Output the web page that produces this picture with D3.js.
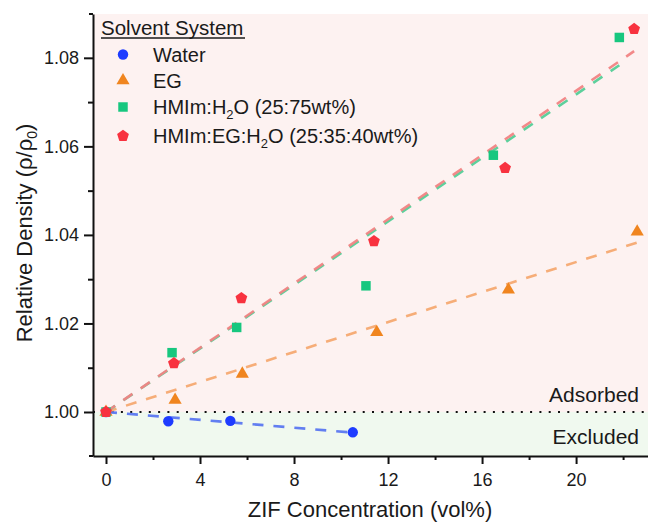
<!DOCTYPE html>
<html>
<head>
<meta charset="utf-8">
<script src="https://cdn.jsdelivr.net/npm/d3@7"></script>
<style>
  body { margin: 0; background: #fff; }
  svg { font-family: "Liberation Sans", Arial, sans-serif; }
</style>
</head>
<body>
<svg width="648" height="525"></svg>
<script>
// data: x = ZIF vol%, y = relative density
var waterX = [0, 2.65, 5.29, 10.5];
var waterY = [1.0, 0.9979, 0.9980, 0.99541];
var egX = [0, 2.94, 5.8, 11.52, 17.12, 22.6];
var egY = [1.0, 1.0027, 1.0086, 1.018, 1.0276, 1.0407];
var hmimX = [0, 2.81, 5.56, 11.06, 16.48, 21.84];
var hmimY = [1.0, 1.0134, 1.0191, 1.0285, 1.058, 1.0846];
var hmimEgX = [0, 2.89, 5.76, 11.4, 16.98, 22.47];
var hmimEgY = [1.0, 1.011, 1.0257, 1.0386, 1.0551, 1.0865];

var xTicks = [0, 4, 8, 12, 16, 20];
var xMinor = [2, 6, 10, 14, 18, 22];
var yTicks = [1.00, 1.02, 1.04, 1.06, 1.08];
var yMinor = [1.01, 1.03, 1.05, 1.07];

var series = [
  {name: "Water", xs: waterX, ys: waterY, shape: "circle", color: "#1e3cff", line: "#5b78f2"},
  {name: "EG", xs: egX, ys: egY, shape: "triangle", color: "#f0851f", line: "#f6aa72"},
  {name: "HMIm:H2O (25:75wt%)", xs: hmimX, ys: hmimY, shape: "square", color: "#17c77f", line: "#55cf98"},
  {name: "HMIm:EG:H2O (25:35:40wt%)", xs: hmimEgX, ys: hmimEgY, shape: "pentagon", color: "#f8323f", line: "#f28484"}
];

var svg = d3.select("svg"),
    margin = {top: 14, right: 0, bottom: 69, left: 93},
    width = 648 - margin.left - margin.right,
    height = 525 - margin.top - margin.bottom;

var x = d3.scaleLinear().domain([-0.553, 23.06]).range([0, width]);
var y = d3.scaleLinear().domain([0.99006, 1.0899]).range([height, 0]);

var g = svg.append("g").attr("transform", "translate(" + margin.left + "," + margin.top + ")");

// shaded regions
g.append("rect").attr("x", 0).attr("y", 0).attr("width", width).attr("height", y(1.0))
  .style("fill", "#fdf2f1");
g.append("rect").attr("x", 0).attr("y", y(1.0)).attr("width", width).attr("height", height - y(1.0))
  .style("fill", "#f0f9ef");

// reference line at 1.00
g.append("line").attr("x1", 0).attr("x2", width).attr("y1", y(1.0)).attr("y2", y(1.0))
  .style("stroke", "#111").style("stroke-width", 2.2).style("stroke-dasharray", "2,7.3");

g.append("text").attr("x", 546).attr("y", 401.7 - margin.top).attr("text-anchor", "end")
  .style("font-size", "21px").style("fill", "#1a1a1a").text("Adsorbed");
g.append("text").attr("x", 546).attr("y", 443.5 - margin.top).attr("text-anchor", "end")
  .style("font-size", "21px").style("fill", "#1a1a1a").text("Excluded");

// linear fit pinned at (0, 1): rho/rho0 = 1 + b*x
function fit(xs, ys) {
  var sxy = 0, sxx = 0;
  xs.forEach(function (v, i) { sxy += v * (ys[i] - 1); sxx += v * v; });
  return {a: 1, b: sxy / sxx};
}

series.forEach(function (s) {
  var f = fit(s.xs, s.ys);
  var x0 = d3.min(s.xs), x1 = d3.max(s.xs);
  g.append("line")
    .attr("x1", x(x0)).attr("y1", y(f.a + f.b * x0))
    .attr("x2", x(x1)).attr("y2", y(f.a + f.b * x1))
    .style("stroke", s.line).style("stroke-width", 2.6)
    .style("stroke-dasharray", "11,10").style("opacity", 0.95);
});

function symbolFor(shape) {
  if (shape === "circle") return d3.symbol().type(d3.symbolCircle).size(85);
  if (shape === "triangle") return d3.symbol().type(d3.symbolTriangle).size(75);
  if (shape === "square") return d3.symbol().type(d3.symbolSquare).size(90);
  // pentagon
  return function () {
    var r = 6.2, pts = [];
    for (var k = 0; k < 5; k++) {
      var ang = -Math.PI / 2 + k * 2 * Math.PI / 5;
      pts.push([r * Math.cos(ang), r * Math.sin(ang)]);
    }
    return "M" + pts.join("L") + "Z";
  };
}

series.forEach(function (s) {
  var pts = s.xs.map(function (v, i) { return {x: v, y: s.ys[i]}; });
  g.append("g").selectAll("path")
    .data(pts)
    .enter()
    .append("path")
    .attr("d", symbolFor(s.shape))
    .attr("transform", function (d) { return "translate(" + x(d.x) + "," + y(d.y) + ")"; })
    .style("fill", s.color);
});

// axes
var xAxis = g.append("g").attr("transform", "translate(0," + height + ")")
  .call(d3.axisBottom(x).tickValues(xTicks).tickFormat(d3.format("d")).tickSize(8).tickSizeOuter(0).tickPadding(9));
g.append("g").attr("transform", "translate(0," + height + ")")
  .call(d3.axisBottom(x).tickValues(xMinor).tickFormat("").tickSize(4).tickSizeOuter(0))
  .select(".domain").remove();
var yAxis = g.append("g")
  .call(d3.axisLeft(y).tickValues(yTicks).tickFormat(d3.format(".2f")).tickSize(9).tickSizeOuter(0).tickPadding(5));
g.append("g")
  .call(d3.axisLeft(y).tickValues(yMinor).tickFormat("").tickSize(5).tickSizeOuter(0))
  .select(".domain").remove();

// little end caps at the corners
g.append("line").attr("x1", -4).attr("x2", 0).attr("y1", 0).attr("y2", 0).style("stroke", "#111").style("stroke-width", 2);
g.append("line").attr("x1", -4).attr("x2", 0).attr("y1", height).attr("y2", height).style("stroke", "#111").style("stroke-width", 2);

g.selectAll(".domain, .tick line").style("stroke", "#111").style("stroke-width", 2);
g.selectAll(".tick text").style("font-size", "18px").style("fill", "#1a1a1a").style("font-family", "Liberation Sans, Arial, sans-serif");

// axis titles
svg.append("text").attr("x", 370).attr("y", 517).attr("text-anchor", "middle")
  .style("font-size", "22px").style("fill", "#1a1a1a").text("ZIF Concentration (vol%)");

var yt = svg.append("text").attr("transform", "translate(31.5," + 233 + ")rotate(-90)")
  .attr("text-anchor", "middle").style("font-size", "22px").style("fill", "#1a1a1a");
yt.append("tspan").text("Relative Density (\u03c1/\u03c1");
yt.append("tspan").attr("dy", 5).style("font-size", "14px").text("0");
yt.append("tspan").attr("dy", -5).text(")");

// legend
var lg = svg.append("g");
lg.append("text").attr("x", 101).attr("y", 34.5).style("font-size", "20.5px").style("fill", "#1a1a1a").text("Solvent System");
lg.append("line").attr("x1", 101).attr("x2", 245).attr("y1", 38).attr("y2", 38).style("stroke", "#1a1a1a").style("stroke-width", 1.3);

var legendRows = [54.5, 80.5, 107, 136];
series.forEach(function (s, i) {
  var cy = legendRows[i];
  lg.append("path").attr("d", symbolFor(s.shape))
    .attr("transform", "translate(123," + cy + ")").style("fill", s.color);
  var t = lg.append("text").attr("x", 153).attr("y", cy + 7).style("font-size", "20px").style("fill", "#1a1a1a");
  if (s.name.indexOf("H2O") >= 0) {
    var parts = s.name.split("H2O");
    t.append("tspan").text(parts[0] + "H");
    t.append("tspan").attr("dy", 5).style("font-size", "13px").text("2");
    t.append("tspan").attr("dy", -5).text("O" + parts[1]);
  } else {
    t.text(s.name);
  }
});
</script>
</body>
</html>
